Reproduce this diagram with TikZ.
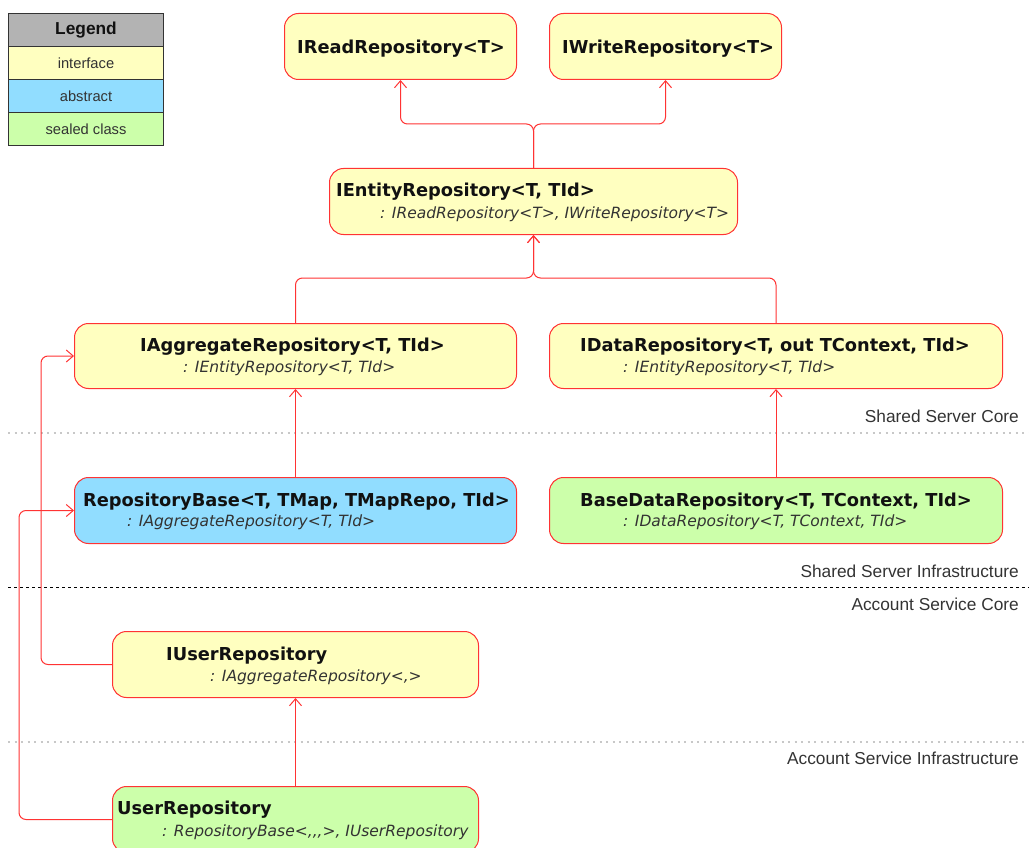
\documentclass[tikz,border=0pt]{standalone}
\usepackage{fontspec}
\setmainfont{DejaVu Sans}[Ligatures=TeXOff]
\newfontfamily\labfont{Liberation Sans}
\usetikzlibrary{arrows.meta}
\definecolor{iface}{HTML}{FFFFC0}
\definecolor{abst}{HTML}{91DDFF}
\definecolor{sealed}{HTML}{CCFFAA}
\definecolor{edgecol}{HTML}{FF3333}
\definecolor{legbg}{HTML}{B3B3B3}
\definecolor{titlecol}{HTML}{111111}
\definecolor{subcol}{HTML}{333333}
\definecolor{sepcol}{HTML}{C8C8C8}
\begin{document}
\begin{tikzpicture}[x=1pt,y=-1pt,
  box/.style={draw=edgecol, line width=1pt, rounded corners=14pt, anchor=north west, inner sep=0pt},
  ifacebox/.style={box, fill=iface},
  abstbox/.style={box, fill=abst},
  sealedbox/.style={box, fill=sealed},
  ttl/.style={anchor=base west, inner sep=0pt, text=titlecol, font=\fontsize{17.8}{20}\selectfont\bfseries},
  sub/.style={anchor=base west, inner sep=0pt, text=subcol, font=\fontsize{15.5}{17}\selectfont\itshape},
  conn/.style={draw=edgecol, line width=1pt, rounded corners=7pt, -{Straight Barb[length=7pt,width=12pt,line width=1pt]}},
  layer/.style={anchor=base east, inner sep=0pt, text=subcol, font=\labfont\fontsize{17.3}{20}\selectfont},
  legrow/.style={draw=black!80, line width=1pt, minimum width=155pt, minimum height=33pt, anchor=north west, inner sep=0pt, font=\labfont\fontsize{14.7}{17}\selectfont, text=subcol},
  dotsep/.style={draw=sepcol, line width=2pt, dash pattern=on 2pt off 4.5pt},
  dashsep/.style={draw=black, line width=1pt, dash pattern=on 3pt off 3pt}
]
\useasboundingbox (0,0) rectangle (1029,848);
\begin{scope}
\clip (0,0) rectangle (1029,848);

% legend
\node[legrow, fill=legbg, font=\labfont\fontsize{17.3}{20}\selectfont\bfseries, text=titlecol] (legH) at (8,13) {Legend};
\node[legrow, fill=iface] (legI) at (8,46) {interface};
\node[legrow, fill=abst] (legA) at (8,79) {abstract};
\node[legrow, fill=sealed] (legS) at (8,112) {sealed class};

% separators
\draw[dotsep] (8,433) -- (1029,433);
\draw[dashsep] (8,587) -- (1029,587);
\draw[dotsep] (8,742) -- (1029,742);
\node[layer] (l1) at (1019,422) {Shared Server Core};
\node[layer] (l2) at (1019,577) {Shared Server Infrastructure};
\node[layer] (l3) at (1019,610) {Account Service Core};
\node[layer] (l4) at (1019,764) {Account Service Infrastructure};

% boxes
\node[ifacebox, minimum width=232pt, minimum height=66pt] (iread) at (284,13) {};
\node[ifacebox, minimum width=232pt, minimum height=66pt] (iwrite) at (549,13) {};
\node[ifacebox, minimum width=408pt, minimum height=66pt] (ientity) at (329,168) {};
\node[ifacebox, minimum width=442pt, minimum height=65pt] (iagg) at (74,323) {};
\node[ifacebox, minimum width=453pt, minimum height=65pt] (idata) at (549,323) {};
\node[abstbox, minimum width=442pt, minimum height=66pt] (repobase) at (74,477) {};
\node[sealedbox, minimum width=453pt, minimum height=66pt] (basedata) at (549,477) {};
\node[ifacebox, minimum width=366pt, minimum height=66pt] (iuser) at (112,631) {};
\node[sealedbox, minimum width=366pt, minimum height=66pt] (user) at (112,786) {};

% texts
\node[ttl] (ireadT) at (297,53.3) {IReadRepository<T>};
\node[ttl] (iwriteT) at (562,53.3) {IWriteRepository<T>};
\node[ttl] (ientityT) at (336,196.3) {IEntityRepository<T, TId>};
\node[sub] (ientityS) at (380,218.4) {: IReadRepository<T>, IWriteRepository<T>};
\node[ttl] (iaggT) at (140,351.3) {IAggregateRepository<T, TId>};
\node[sub] (iaggS) at (183,372.4) {: IEntityRepository<T, TId>};
\node[ttl] (idataT) at (580,351.3) {IDataRepository<T, out TContext, TId>};
\node[sub] (idataS) at (623,372.4) {: IEntityRepository<T, TId>};
\node[ttl] (repobaseT) at (83,506.3) {RepositoryBase<T, TMap, TMapRepo, TId>};
\node[sub] (repobaseS) at (127,526.4) {: IAggregateRepository<T, TId>};
\node[ttl] (basedataT) at (580,506.3) {BaseDataRepository<T, TContext, TId>};
\node[sub] (basedataS) at (623,526.4) {: IDataRepository<T, TContext, TId>};
\node[ttl] (iuserT) at (166,660.3) {IUserRepository};
\node[sub] (iuserS) at (210,681.4) {: IAggregateRepository<,>};
\node[ttl] (userT) at (117,814.3) {UserRepository};
\node[sub] (userS) at (162,836.4) {: RepositoryBase<,,,>, IUserRepository};

% connectors
\draw[conn] (ientity.north) -- ++(0,-44) -| (iread.south);
\draw[conn] (ientity.north) -- ++(0,-44) -| (iwrite.south);
\draw[conn] (iagg.north) -- ++(0,-45) -| (ientity.south);
\draw[conn] (idata.north) -- ++(0,-45) -| (ientity.south);
\draw[conn] (repobase.north) -- (iagg.south);
\draw[conn] (basedata.north) -- (idata.south);
\draw[conn] (user.north) -- (iuser.south);
\draw[conn] (iuser.west) -- ++(-71,0) |- (iagg.west);
\draw[conn] (user.west) -- ++(-93,0) |- (repobase.west);
\end{scope}
\end{tikzpicture}
\end{document}
